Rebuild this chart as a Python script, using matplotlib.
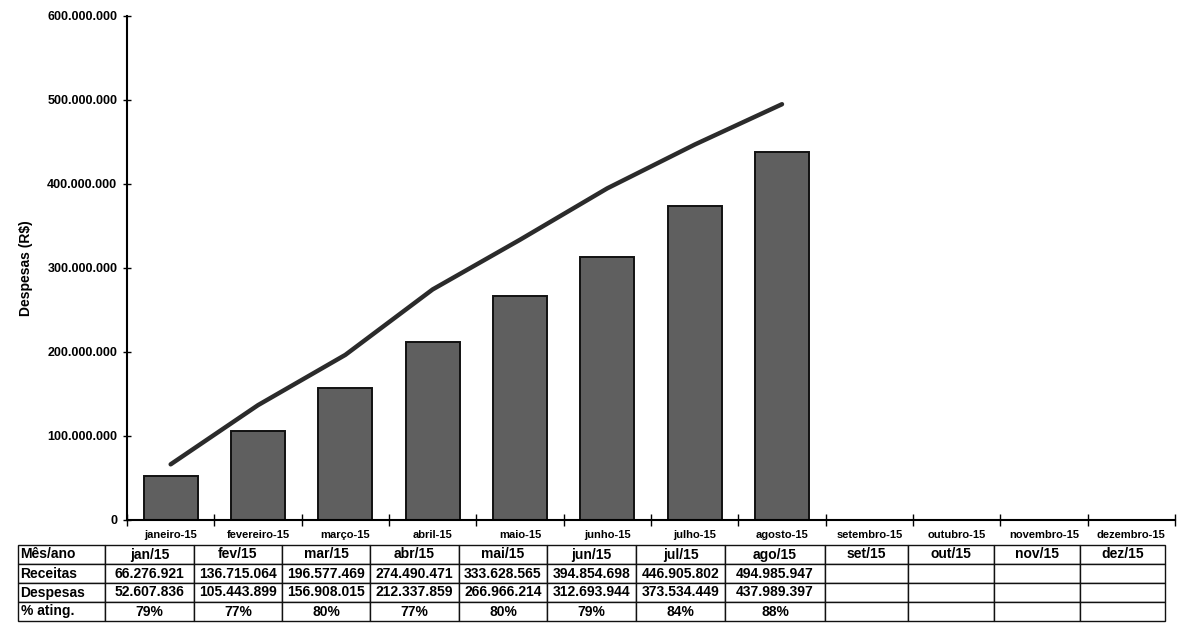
import matplotlib
matplotlib.use("Agg")
import matplotlib.pyplot as plt
from matplotlib.ticker import FuncFormatter, FixedLocator

plt.rcParams['font.family'] = ['Liberation Sans', 'DejaVu Sans']

categories = ["janeiro-15", "fevereiro-15", "março-15", "abril-15", "maio-15", "junho-15",
              "julho-15", "agosto-15", "setembro-15", "outubro-15", "novembro-15", "dezembro-15"]
table_months = ["jan/15", "fev/15", "mar/15", "abr/15", "mai/15", "jun/15",
                "jul/15", "ago/15", "set/15", "out/15", "nov/15", "dez/15"]
receitas = [66276921, 136715064, 196577469, 274490471, 333628565, 394854698, 446905802, 494985947]
despesas = [52607836, 105443899, 156908015, 212337859, 266966214, 312693944, 373534449, 437989397]
ating = ["79%", "77%", "80%", "77%", "80%", "79%", "84%", "88%"]
yticks = [0, 100000000, 200000000, 300000000, 400000000, 500000000, 600000000]

W, H = 1182, 624
fig = plt.figure(figsize=(W / 100, H / 100), dpi=100)
ax = fig.add_axes([127 / W, 1 - 520 / H, (1175 - 127) / W, (520 - 16) / H])

xs = list(range(len(categories)))
ax.bar(xs[:len(despesas)], despesas, width=0.62, color="#5f5f5f", edgecolor="#111111", linewidth=1.4, zorder=2)
ax.plot(xs[:len(receitas)], receitas, color="#2b2b2b", linewidth=3.2, solid_capstyle="round", zorder=3)

ax.set_xlim(-0.5, len(categories) - 0.5)
ax.set_ylim(0, 600000000)
ax.set_yticks(yticks)
ax.yaxis.set_major_formatter(FuncFormatter(lambda v, p: f"{int(v):,}".replace(",", ".")))
ax.tick_params(axis="y", direction="inout", length=6, width=1, labelsize=9, pad=4)
for t in ax.get_yticklabels():
    t.set_fontweight("bold")

ax.xaxis.set_major_locator(FixedLocator([k - 0.5 for k in range(len(categories) + 1)]))
ax.xaxis.set_major_formatter(FuncFormatter(lambda v, p: ""))
ax.xaxis.set_minor_locator(FixedLocator(xs))
ax.set_xticklabels(categories, minor=True)
ax.tick_params(axis="x", which="major", direction="inout", length=8, width=1)
ax.tick_params(axis="x", which="minor", length=0, labelsize=8, pad=7)
for t in ax.get_xticklabels(minor=True):
    t.set_fontweight("bold")

for s in ["top", "right"]:
    ax.spines[s].set_visible(False)
ax.spines["left"].set_linewidth(1.5)
ax.spines["bottom"].set_linewidth(1.5)

ax.set_ylabel("Despesas (R$)", fontsize=10, fontweight="bold", labelpad=10)

# table
borders = [18, 105, 194, 282, 370, 459, 547, 636, 725, 825, 908, 994, 1080, 1165]
tax = fig.add_axes([borders[0] / W, 1 - 621 / H, (borders[-1] - borders[0]) / W, (621 - 545) / H])
tax.axis("off")
def fmt(v):
    return f"{v:,}".replace(",", ".")
n = len(table_months)
rows = [
    ["Mês/ano"] + table_months,
    ["Receitas"] + [fmt(v) for v in receitas] + [""] * (n - len(receitas)),
    ["Despesas"] + [fmt(v) for v in despesas] + [""] * (n - len(despesas)),
    ["% ating."] + ating + [""] * (n - len(ating)),
]
total = borders[-1] - borders[0]
colw = [(borders[i + 1] - borders[i]) / total for i in range(len(borders) - 1)]
tbl = tax.table(cellText=rows, colWidths=colw, bbox=[0, 0, 1, 1], cellLoc="center")
tbl.auto_set_font_size(False)
for (r, c), cell in tbl.get_celld().items():
    cell.set_linewidth(1.0)
    cell.set_edgecolor("#111111")
    cell.get_text().set_fontsize(10)
    cell.get_text().set_fontweight("bold")
    if c == 0:
        cell.get_text().set_ha("left")
        cell.PAD = 0.03
        cell._loc = "left"

fig.savefig("out.png", dpi=100)
